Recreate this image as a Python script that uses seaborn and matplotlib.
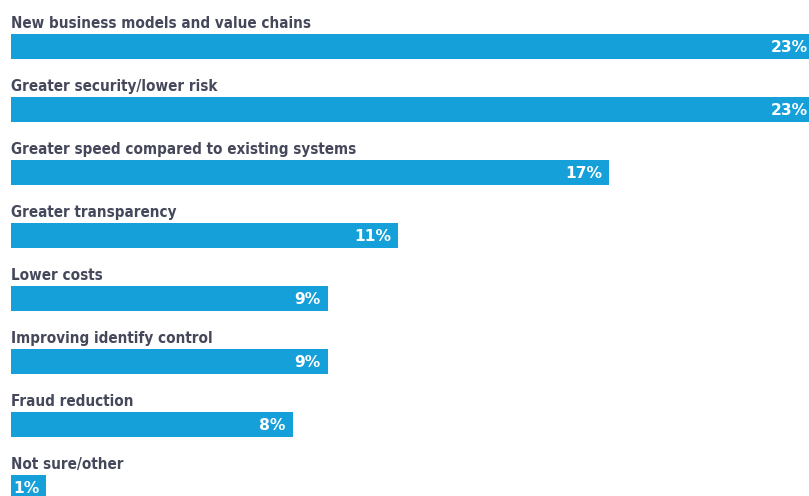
import matplotlib
matplotlib.use("Agg")
import matplotlib.pyplot as plt
import seaborn as sns
import pandas as pd

categories = [
    "New business models and value chains",
    "Greater security/lower risk",
    "Greater speed compared to existing systems",
    "Greater transparency",
    "Lower costs",
    "Improving identify control",
    "Fraud reduction",
    "Not sure/other",
]
values = [23, 23, 17, 11, 9, 9, 8, 1]
value_labels = ["23%", "23%", "17%", "11%", "9%", "9%", "8%", "1%"]

df = pd.DataFrame({"category": categories, "value": values})

sns.set_theme(style="white")
plt.rcParams["font.family"] = ["DejaVu Sans"]

fig = plt.figure(figsize=(8.09, 4.96), dpi=100)
ax = fig.add_axes([0, 0, 1, 1])

bar_color = "#15a0da"
sns.barplot(data=df, y="category", x="value", orient="h", color=bar_color,
            width=0.4, saturation=1, ax=ax, edgecolor="none")

# Layout: bar rows spaced evenly, left margin before the bars
px_per_unit = 35.2
xmin, xmax = -11 / px_per_unit, 798 / px_per_unit
ax.set_xlim(xmin, xmax)
ax.set_ylim(7.135, -0.738)
ax.axis("off")

for i, (cat, val, lab) in enumerate(zip(categories, values, value_labels)):
    ax.annotate(cat, xy=(0, i - 0.2), xytext=(0, 4.3), textcoords="offset points",
                ha="left", va="baseline", fontsize=10.9, fontweight="bold",
                fontstretch="condensed", color="#45485a")
    x_text = min(val - 7 / px_per_unit, xmax - 1.5 / px_per_unit)
    ax.text(x_text, i, lab, ha="right", va="center_baseline", fontsize=11.2,
            fontweight="bold", fontstretch="normal", color="white",
            family="DejaVu Sans")

fig.savefig("out.png", dpi=100)
